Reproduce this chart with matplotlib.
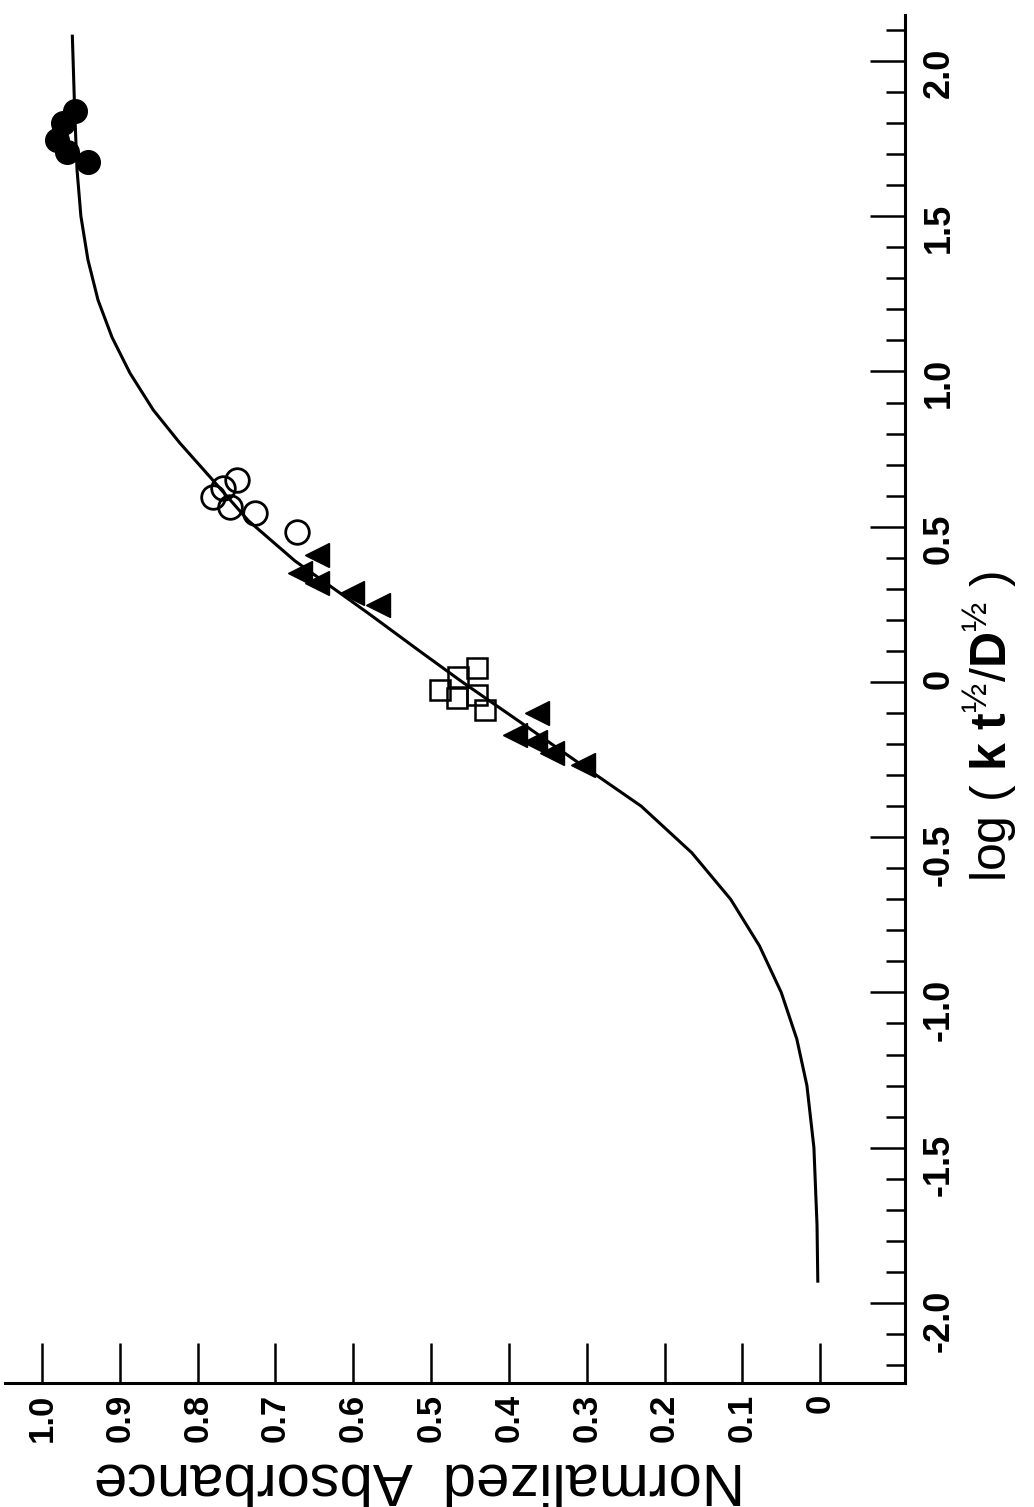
import numpy as np
import matplotlib
matplotlib.use("Agg")
import matplotlib.pyplot as plt
from matplotlib.ticker import MultipleLocator, FixedLocator

plt.rcParams['font.family'] = ['Liberation Sans', 'DejaVu Sans']
plt.rcParams['mathtext.fontset'] = 'custom'
plt.rcParams['mathtext.rm'] = 'Liberation Sans'
plt.rcParams['mathtext.bf'] = 'Liberation Sans:bold'
plt.rcParams['mathtext.it'] = 'Liberation Sans:italic'

# fitted curve: log(k t^1/2 / D^1/2) vs normalized absorbance
curve_log = [-1.93, -1.75, -1.5, -1.3, -1.15, -1.0, -0.85, -0.7, -0.55,
             -0.4, -0.27, -0.13, 0.0, 0.10, 0.22, 0.39, 0.52, 0.66, 0.77,
             0.876, 0.995, 1.11, 1.23, 1.36, 1.50, 1.65, 1.84, 2.08]
curve_abs = [0.003, 0.004, 0.008, 0.017, 0.03, 0.05, 0.078, 0.115, 0.165,
             0.23, 0.305, 0.385, 0.46, 0.515, 0.58, 0.675, 0.735, 0.784, 0.823,
             0.857, 0.887, 0.910, 0.928, 0.941, 0.950, 0.955, 0.958, 0.961]

# measured points, one list pair per run
filled_circ_log = [1.84, 1.80, 1.745, 1.707, 1.675]
filled_circ_abs = [0.958, 0.973, 0.981, 0.968, 0.941]

open_circ_log = [0.651, 0.596, 0.625, 0.564, 0.544, 0.483]
open_circ_abs = [0.749, 0.780, 0.767, 0.758, 0.726, 0.672]

upper_tri_log = [0.409, 0.351, 0.319, 0.287, 0.248]
upper_tri_abs = [0.647, 0.668, 0.647, 0.602, 0.568]

square_log = [0.045, 0.016, -0.026, -0.052, -0.042, -0.090]
square_abs = [0.441, 0.465, 0.488, 0.467, 0.441, 0.431]

lower_tri_log = [-0.100, -0.171, -0.193, -0.229, -0.267]
lower_tri_abs = [0.364, 0.392, 0.366, 0.344, 0.305]

abs_ticks = [0, 0.1, 0.2, 0.3, 0.4, 0.5, 0.6, 0.7, 0.8, 0.9, 1.0]
abs_labels = ['0', '0.1', '0.2', '0.3', '0.4', '0.5', '0.6', '0.7', '0.8', '0.9', '1.0']
log_ticks = [-2.0, -1.5, -1.0, -0.5, 0, 0.5, 1.0, 1.5, 2.0]
log_labels = ['-2.0', '-1.5', '-1.0', '-0.5', '0', '0.5', '1.0', '1.5', '2.0']

fig = plt.figure(figsize=(10.34, 15.07), dpi=100)
ax = fig.add_axes([0.0048, 0.0823, 0.8704, 0.9077])

ax.plot(curve_abs, curve_log, color='black', lw=2.2, zorder=2)
ax.plot(filled_circ_abs, filled_circ_log, 'o', color='black', ms=17, zorder=3)
ax.plot(open_circ_abs, open_circ_log, 'o', mfc='none', mec='black', mew=2.0, ms=17, zorder=3)
ax.plot(upper_tri_abs, upper_tri_log, '<', color='black', ms=17, zorder=3)
ax.plot(square_abs, square_log, 's', mfc='none', mec='black', mew=1.8, ms=14, zorder=3)
ax.plot(lower_tri_abs, lower_tri_log, '<', color='black', ms=17, zorder=3)

ax.set_xlim(1.0476, -0.109)
ax.set_ylim(-2.258, 2.148)

for side in ['left', 'top']:
    ax.spines[side].set_visible(False)
for side in ['right', 'bottom']:
    ax.spines[side].set_linewidth(2.2)

ax.xaxis.set_major_locator(FixedLocator(abs_ticks))
ax.set_xticklabels(abs_labels)
ax.yaxis.tick_right()
ax.yaxis.set_major_locator(FixedLocator(log_ticks))
ax.set_yticklabels(log_labels)
ax.yaxis.set_minor_locator(MultipleLocator(0.1))

ax.tick_params(axis='x', direction='in', length=29, width=1.8, pad=8,
               labelsize=25, labelrotation=90)
ax.tick_params(axis='y', which='major', direction='in', length=25, width=1.8,
               pad=12, labelsize=26, labelrotation=90)
ax.tick_params(axis='y', which='minor', direction='in', length=14, width=1.8)
for lab in ax.get_xticklabels() + ax.get_yticklabels():
    lab.set_fontweight('bold')

ax.set_xlabel('Normalized  Absorbance', fontsize=43, rotation=180)
ax.xaxis.set_label_coords(0.461, -0.050)

# axis title for the log scale, written sideways next to the right spine
fig.text(990 / 1034, 1 - 727 / 1507,
         r'log ( $\mathbf{k\ t}^{½}/\mathbf{D}^{½}$ )',
         fontsize=36, rotation=90, ha='center', va='center')

fig.savefig('out.png', dpi=100)
